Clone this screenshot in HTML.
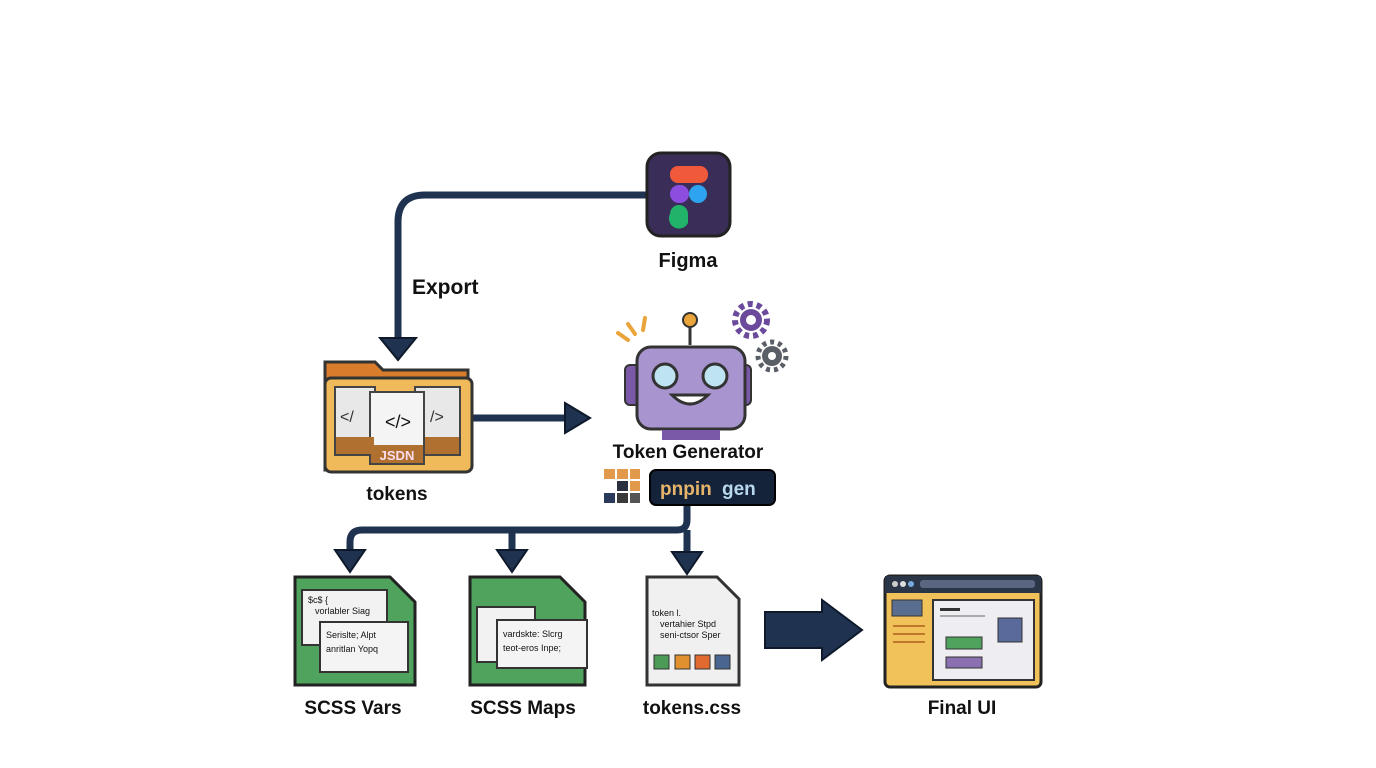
<!DOCTYPE html><html><head><meta charset="utf-8"><style>html,body{margin:0;padding:0;background:#fff}svg{display:block}text{font-family:"Liberation Sans",sans-serif;font-weight:bold;fill:#111}</style></head><body>
<svg width="1376" height="768" viewBox="0 0 1376 768">
<g stroke="#1f3350" stroke-width="7" fill="none" stroke-linejoin="round">
<path d="M648,195H425Q398,195 398,222V340"/>
<path d="M472,418H570"/>
<path d="M687,505V520Q687,530 677,530H362Q350,530 350,542V550"/>
<path d="M512,530V550"/><path d="M687,530V552"/>
</g>
<g fill="#1f3350" stroke="#0e1a2b" stroke-width="2">
<path d="M380,338L416,338L398,360z"/>
<path d="M565,403L590,418L565,433z"/>
<path d="M335,550L365,550L350,572z"/><path d="M497,550L527,550L512,572z"/><path d="M672,552L702,552L687,574z"/>
<path d="M765,612H822V600L862,630L822,660V648H765z"/>
</g>
<!-- Figma -->
<rect x="647" y="153" width="83" height="83" rx="14" fill="#3a2d57" stroke="#222" stroke-width="3"/>
<rect x="670" y="166" width="38" height="17" rx="8" fill="#f05a3a"/>
<rect x="670" y="185" width="19" height="18" rx="9" fill="#8d4ee0"/>
<circle cx="698" cy="194" r="9" fill="#2ea4f0"/>
<path d="M670,214a9,9 0 0 1 18,0v9a9,9 0 1 1-18,-9z" fill="#22b36a"/>
<text x="688" y="267" font-size="20" text-anchor="middle">Figma</text>
<text x="412" y="294" font-size="21">Export</text>
<!-- folder -->
<path d="M325,362h50l8,8h85v100H325z" fill="#d97d2c" stroke="#333" stroke-width="3"/>
<rect x="325" y="378" width="147" height="94" rx="6" fill="#f0b95a" stroke="#333" stroke-width="3"/>
<g stroke="#444" stroke-width="2"><rect x="335" y="387" width="40" height="68" fill="#e8e8e8"/><rect x="415" y="387" width="45" height="68" fill="#e8e8e8"/><rect x="370" y="392" width="54" height="72" fill="#f4f4f4"/></g>
<g fill="#b07030"><rect x="336" y="437" width="38" height="17"/><rect x="371" y="445" width="52" height="18"/><rect x="425" y="437" width="34" height="17"/></g>
<text x="397" y="460" font-size="13" text-anchor="middle" style="fill:#fde">JSDN</text>
<text x="340" y="422" font-size="16" style="font-weight:normal;fill:#333">&lt;/</text>
<text x="430" y="422" font-size="16" style="font-weight:normal;fill:#333">/&gt;</text>
<text x="385" y="428" font-size="18" style="font-weight:normal" fill="#333">&lt;/&gt;</text>
<text x="397" y="500" font-size="19" text-anchor="middle">tokens</text>
<!-- robot -->
<line x1="690" y1="325" x2="690" y2="345" stroke="#333" stroke-width="3"/><circle cx="690" cy="320" r="7" fill="#e9a53a" stroke="#333" stroke-width="2"/>
<rect x="625" y="365" width="16" height="40" rx="5" fill="#7a5aa8" stroke="#333" stroke-width="2"/><rect x="735" y="365" width="16" height="40" rx="5" fill="#7a5aa8" stroke="#333" stroke-width="2"/>
<rect x="637" y="347" width="108" height="82" rx="14" fill="#a895d0" stroke="#333" stroke-width="3"/>
<rect x="662" y="430" width="58" height="10" fill="#7a5aa8"/>
<circle cx="665" cy="376" r="12" fill="#bde4f0" stroke="#333" stroke-width="3"/><circle cx="715" cy="376" r="12" fill="#bde4f0" stroke="#333" stroke-width="3"/>
<path d="M672,395q18,18 36,0z" fill="#fff" stroke="#333" stroke-width="3"/>
<circle cx="751" cy="320" r="16" fill="none" stroke="#6b4a9c" stroke-width="6" stroke-dasharray="5 4"/><circle cx="751" cy="320" r="11" fill="#6b4a9c"/><circle cx="751" cy="320" r="5" fill="#fff"/>
<circle cx="772" cy="356" r="14" fill="none" stroke="#5a5e66" stroke-width="5" stroke-dasharray="4 4"/><circle cx="772" cy="356" r="10" fill="#5a5e66"/><circle cx="772" cy="356" r="4" fill="#fff"/>
<g stroke="#e9a53a" stroke-width="4" stroke-linecap="round"><line x1="618" y1="333" x2="628" y2="340"/><line x1="628" y1="324" x2="635" y2="334"/><line x1="645" y1="318" x2="643" y2="330"/></g>
<text x="688" y="458" font-size="19" text-anchor="middle">Token Generator</text>
<g><rect x="604" y="469" width="11" height="10" fill="#e09a4a"/><rect x="617" y="469" width="11" height="10" fill="#e09a4a"/><rect x="630" y="469" width="10" height="10" fill="#e09a4a"/><rect x="617" y="481" width="11" height="10" fill="#2a3040"/><rect x="630" y="481" width="10" height="10" fill="#e09a4a"/><rect x="604" y="493" width="11" height="10" fill="#2a3a5a"/><rect x="617" y="493" width="11" height="10" fill="#3a3a3a"/><rect x="630" y="493" width="10" height="10" fill="#555"/></g>
<rect x="650" y="470" width="125" height="35" rx="6" fill="#14233a" stroke="#000" stroke-width="2"/>
<text x="660" y="495" font-size="19" style="fill:#e6b46a">pnpin</text><text x="722" y="495" font-size="19" style="fill:#b8d8ee">gen</text>
<!-- SCSS files -->
<path d="M295,577h95l25,25v83H295z" fill="#4fa35c" stroke="#222" stroke-width="3"/>
<rect x="302" y="590" width="85" height="55" fill="#f2f2f2" stroke="#333" stroke-width="2"/>
<rect x="320" y="622" width="88" height="50" fill="#f4f4f4" stroke="#333" stroke-width="2"/>
<g font-size="9"><text x="308" y="603" style="font-weight:normal">$c$ {</text><text x="315" y="614" style="font-weight:normal">vorlabler Siag</text><text x="326" y="638" style="font-weight:normal">Serislte; Alpt</text><text x="326" y="652" style="font-weight:normal">anritlan Yopq</text></g>
<path d="M470,577h90l25,25v83H470z" fill="#4fa35c" stroke="#222" stroke-width="3"/>
<rect x="477" y="607" width="58" height="55" fill="#f2f2f2" stroke="#333" stroke-width="2"/>
<rect x="497" y="620" width="90" height="48" fill="#f4f4f4" stroke="#333" stroke-width="2"/>
<g font-size="9"><text x="503" y="637" style="font-weight:normal">vardskte: Slcrg</text><text x="503" y="651" style="font-weight:normal">teot-eros Inpe;</text></g>
<path d="M647,577h70l22,22v86H647z" fill="#f0f0f0" stroke="#333" stroke-width="3"/>
<g font-size="9"><text x="652" y="616" style="font-weight:normal">token l.</text><text x="660" y="627" style="font-weight:normal">vertahier Stpd</text><text x="660" y="638" style="font-weight:normal">seni-ctsor Sper</text></g>
<rect x="654" y="655" width="15" height="14" fill="#4b9a55" stroke="#333"/><rect x="675" y="655" width="15" height="14" fill="#e0902e" stroke="#333"/><rect x="695" y="655" width="15" height="14" fill="#e06a30" stroke="#333"/><rect x="715" y="655" width="15" height="14" fill="#4a6690" stroke="#333"/>
<!-- Final UI -->
<rect x="885" y="576" width="156" height="111" rx="5" fill="#f2c25a" stroke="#222" stroke-width="3"/>
<rect x="885" y="576" width="156" height="17" fill="#2a3548"/>
<circle cx="895" cy="584" r="3" fill="#ccc"/><circle cx="903" cy="584" r="3" fill="#ddd"/><circle cx="911" cy="584" r="3" fill="#7ad"/><rect x="920" y="580" width="115" height="8" rx="3" fill="#5a6680"/>
<rect x="892" y="600" width="30" height="16" fill="#5a6f90" stroke="#333"/>
<rect x="933" y="600" width="101" height="80" fill="#eeeef2" stroke="#333" stroke-width="2"/>
<rect x="940" y="608" width="20" height="3" fill="#333"/><rect x="940" y="615" width="45" height="2" fill="#aaa"/>
<rect x="998" y="618" width="24" height="24" fill="#5a6a9a" stroke="#333"/>
<rect x="946" y="637" width="36" height="12" fill="#4fa35c" stroke="#333"/><rect x="946" y="657" width="36" height="11" fill="#8a70b0" stroke="#333"/>
<g fill="#c0782a"><rect x="893" y="625" width="32" height="2"/><rect x="893" y="633" width="32" height="2"/><rect x="893" y="641" width="32" height="2"/></g>
<g font-size="19" text-anchor="middle"><text x="353" y="714">SCSS Vars</text><text x="523" y="714">SCSS Maps</text><text x="692" y="714">tokens.css</text><text x="962" y="714">Final UI</text></g>
</svg></body></html>
